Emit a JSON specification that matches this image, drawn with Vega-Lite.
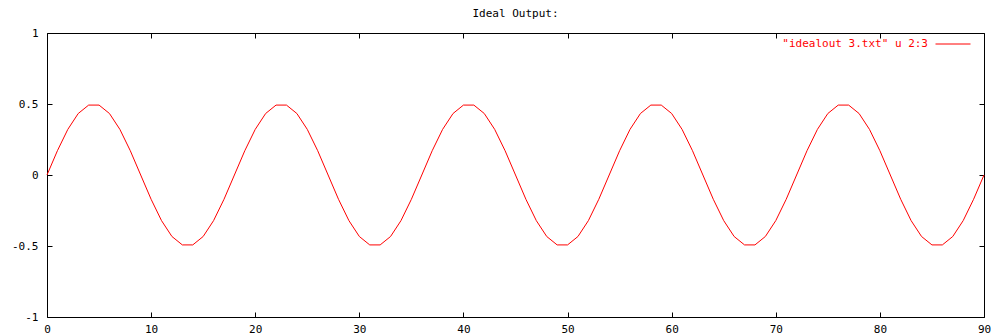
{
  "$schema": "https://vega.github.io/schema/vega-lite/v6.json",
  "width": 937,
  "height": 284,
  "autosize": {"type": "none"},
  "padding": {"left": 47, "top": 33, "right": 11, "bottom": 18},
  "background": "white",
  "title": {"text": "Ideal Output:", "font": "DejaVu Sans Mono", "fontSize": 11, "fontWeight": "normal", "color": "#000", "anchor": "middle", "offset": 7},
  "config": {
    "view": {"stroke": "#000", "strokeWidth": 1},
    "axis": {
      "domain": false, "grid": false, "tickColor": "#000", "tickSize": -5, "tickWidth": 1,
      "labelFont": "DejaVu Sans Mono", "labelFontSize": 11, "labelColor": "#000", "title": null
    }
  },
  "data": {"values": [
    {"x":0,"y":0},{"x":1,"y":0.171},{"x":2,"y":0.3214},{"x":3,"y":0.433},{"x":4,"y":0.4924},{"x":5,"y":0.4924},{"x":6,"y":0.433},{"x":7,"y":0.3214},{"x":8,"y":0.171},
    {"x":9,"y":0},{"x":10,"y":-0.171},{"x":11,"y":-0.3214},{"x":12,"y":-0.433},{"x":13,"y":-0.4924},{"x":14,"y":-0.4924},{"x":15,"y":-0.433},{"x":16,"y":-0.3214},{"x":17,"y":-0.171},
    {"x":18,"y":0},{"x":19,"y":0.171},{"x":20,"y":0.3214},{"x":21,"y":0.433},{"x":22,"y":0.4924},{"x":23,"y":0.4924},{"x":24,"y":0.433},{"x":25,"y":0.3214},{"x":26,"y":0.171},
    {"x":27,"y":0},{"x":28,"y":-0.171},{"x":29,"y":-0.3214},{"x":30,"y":-0.433},{"x":31,"y":-0.4924},{"x":32,"y":-0.4924},{"x":33,"y":-0.433},{"x":34,"y":-0.3214},{"x":35,"y":-0.171},
    {"x":36,"y":0},{"x":37,"y":0.171},{"x":38,"y":0.3214},{"x":39,"y":0.433},{"x":40,"y":0.4924},{"x":41,"y":0.4924},{"x":42,"y":0.433},{"x":43,"y":0.3214},{"x":44,"y":0.171},
    {"x":45,"y":0},{"x":46,"y":-0.171},{"x":47,"y":-0.3214},{"x":48,"y":-0.433},{"x":49,"y":-0.4924},{"x":50,"y":-0.4924},{"x":51,"y":-0.433},{"x":52,"y":-0.3214},{"x":53,"y":-0.171},
    {"x":54,"y":0},{"x":55,"y":0.171},{"x":56,"y":0.3214},{"x":57,"y":0.433},{"x":58,"y":0.4924},{"x":59,"y":0.4924},{"x":60,"y":0.433},{"x":61,"y":0.3214},{"x":62,"y":0.171},
    {"x":63,"y":0},{"x":64,"y":-0.171},{"x":65,"y":-0.3214},{"x":66,"y":-0.433},{"x":67,"y":-0.4924},{"x":68,"y":-0.4924},{"x":69,"y":-0.433},{"x":70,"y":-0.3214},{"x":71,"y":-0.171},
    {"x":72,"y":0},{"x":73,"y":0.171},{"x":74,"y":0.3214},{"x":75,"y":0.433},{"x":76,"y":0.4924},{"x":77,"y":0.4924},{"x":78,"y":0.433},{"x":79,"y":0.3214},{"x":80,"y":0.171},
    {"x":81,"y":0},{"x":82,"y":-0.171},{"x":83,"y":-0.3214},{"x":84,"y":-0.433},{"x":85,"y":-0.4924},{"x":86,"y":-0.4924},{"x":87,"y":-0.433},{"x":88,"y":-0.3214},{"x":89,"y":-0.171},
    {"x":90,"y":0}
  ]},
  "layer": [
    {
      "mark": {"type": "line", "strokeWidth": 1, "interpolate": "linear"},
      "encoding": {
        "x": {"field": "x", "type": "quantitative", "scale": {"domain": [0, 90], "nice": false, "zero": false},
              "axis": {"orient": "bottom", "values": [0,10,20,30,40,50,60,70,80,90], "labelPadding": 11, "labelFlush": false, "labelExpr": "'' + datum.value"}},
        "y": {"field": "y", "type": "quantitative", "scale": {"domain": [-1, 1], "nice": false},
              "axis": {"orient": "left", "values": [-1,-0.5,0,0.5,1], "labelPadding": 14, "labelFlush": false, "labelExpr": "'' + datum.value"}},
        "color": {"datum": "\"idealout 3.txt\" u 2:3", "type": "nominal",
                  "scale": {"range": ["#ff0000"]},
                  "legend": {"orient": "none", "legendX": 888, "legendY": -7, "title": null,
                             "symbolType": "stroke", "symbolSize": 1225, "symbolStrokeWidth": 1,
                             "labelAlign": "right", "labelOffset": -43, "labelFont": "DejaVu Sans Mono", "labelFontSize": 11, "labelColor": "#ff0000", "padding": 0}}
      }
    },
    {
      "mark": {"type": "line", "opacity": 0},
      "encoding": {
        "x": {"field": "x", "type": "quantitative", "axis": {"orient": "top", "values": [0,10,20,30,40,50,60,70,80,90], "labels": false}},
        "y": {"field": "y", "type": "quantitative", "axis": {"orient": "right", "values": [-1,-0.5,0,0.5,1], "labels": false}}
      }
    }
  ],
  "resolve": {"axis": {"x": "independent", "y": "independent"}}
}
